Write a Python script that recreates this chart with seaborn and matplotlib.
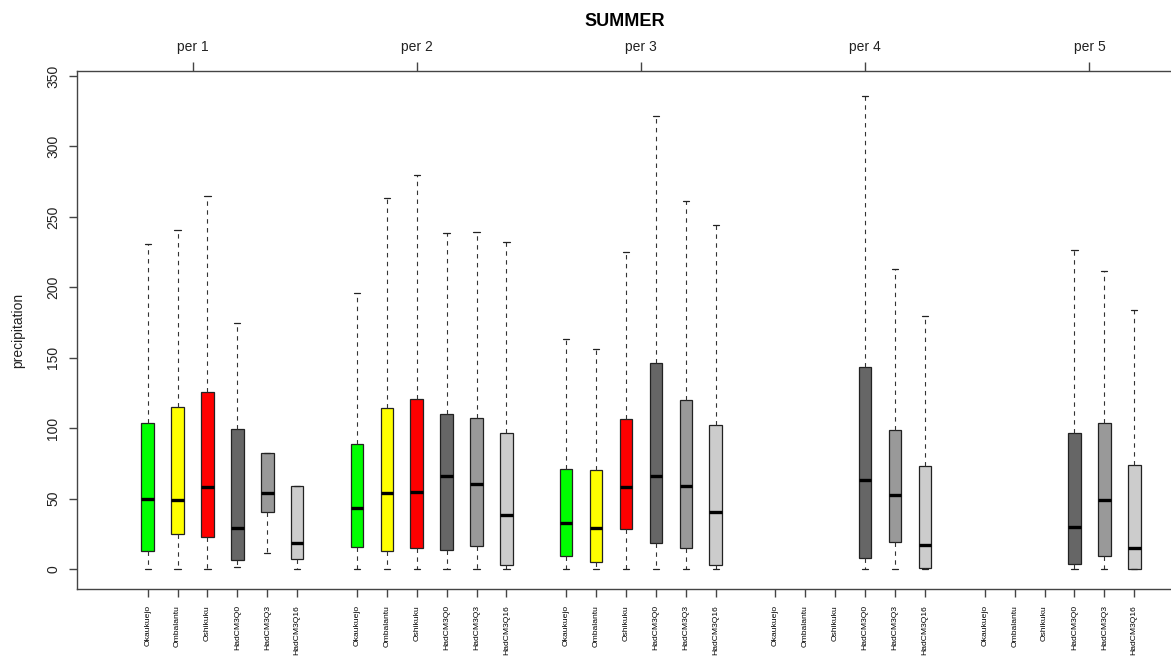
import numpy as np
import pandas as pd
import matplotlib
matplotlib.use("Agg")
import matplotlib.pyplot as plt
import seaborn as sns

periods = ["per 1", "per 2", "per 3", "per 4", "per 5"]
stations = ["Okaukuejo", "Ombalantu", "Oshikuku", "HadCM3Q0", "HadCM3Q3", "HadCM3Q16"]
colors = ["#00FF00", "#FFFF00", "#FF0000", "#666666", "#999999", "#CCCCCC"]

# Five-number summaries of summer precipitation, one row per period,
# one column per station / model run (None = no observations in that period)
whisker_low = [
    [0.0, 0.0, 0.0, 1.7, 11.1, 0.0],
    [0.0, 0.0, 0.0, 0.0, 0.0, 0.0],
    [0.0, 0.0, 0.0, 0.0, 0.0, 0.0],
    [None, None, None, 0.0, 0.0, 0.0],
    [None, None, None, 0.0, 0.0, 0.0],
]
quart_low = [
    [13.0, 25.1, 22.9, 6.4, 40.2, 7.1],
    [15.4, 13.0, 14.9, 13.5, 16.1, 2.8],
    [9.5, 4.7, 28.2, 18.2, 14.9, 2.8],
    [None, None, None, 7.6, 19.0, 0.7],
    [None, None, None, 3.5, 9.0, 0.0],
]
median = [
    [49.7, 49.0, 58.0, 28.9, 53.7, 18.2],
    [43.1, 53.7, 54.4, 66.0, 60.1, 38.3],
    [32.9, 28.9, 58.0, 66.3, 59.2, 40.2],
    [None, None, None, 63.2, 52.5, 17.0],
    [None, None, None, 29.6, 49.2, 14.9],
]
quart_high = [
    [103.4, 114.8, 125.7, 99.4, 82.6, 58.7],
    [88.5, 114.1, 120.7, 110.0, 107.4, 96.6],
    [71.2, 70.5, 106.7, 146.2, 120.0, 102.0],
    [None, None, None, 143.2, 98.7, 73.3],
    [None, None, None, 96.8, 103.4, 73.8],
]
whisker_high = [
    [230.5, 240.9, 264.6, 174.4, 82.6, 58.7],
    [195.9, 263.6, 279.7, 238.3, 239.5, 232.4],
    [163.5, 156.4, 225.3, 321.6, 261.0, 244.2],
    [None, None, None, 336.0, 212.8, 179.8],
    [None, None, None, 226.7, 211.8, 183.9],
]
period_ticks = [2.5, 10.0, 17.5, 25.0, 32.5]
y_ticks = [0, 50, 100, 150, 200, 250, 300, 350]

# Long-form table: each box is given by its five summary values, so the
# quartiles computed by seaborn reproduce the summaries exactly.
slots_per_period = len(stations) + 1
rows = []
tick_pos, tick_lab = [], []
for g, per in enumerate(periods):
    for s, st in enumerate(stations):
        pos = g * slots_per_period + s + 1
        tick_pos.append(pos)
        tick_lab.append(st)
        if median[g][s] is None:
            continue
        for v in (whisker_low[g][s], quart_low[g][s], median[g][s],
                  quart_high[g][s], whisker_high[g][s]):
            rows.append({"pos": pos, "station": st, "period": per, "precipitation": v})
df = pd.DataFrame(rows)

sns.set_theme(style="white")
plt.rcParams["font.family"] = ["Liberation Sans", "DejaVu Sans"]

W, H = 1171, 657
fig = plt.figure(figsize=(W / 100, H / 100), dpi=100)
ax = fig.add_axes([77 / W, 68 / H, 1 - 77 / W, (589 - 71) / H])

line_col = "#222222"
sns.boxplot(
    data=df, x="pos", y="precipitation", hue="station",
    hue_order=stations, palette=dict(zip(stations, colors)),
    native_scale=True, dodge=False, width=0.42, whis=np.inf,
    saturation=1, linecolor=line_col, linewidth=0.9, legend=False,
    whiskerprops=dict(linestyle=(0, (4, 4)), linewidth=0.8, color="#333333"),
    capprops=dict(linewidth=0.9, color=line_col),
    medianprops=dict(linewidth=2.4, color="black", solid_capstyle="butt"),
    ax=ax,
)

ax.set_xlim(-1.364, 35.23)
ax.set_ylim(-14.2, 353.55)

spine_col = "#444444"
for side in ("left", "top", "bottom"):
    ax.spines[side].set_visible(True)
    ax.spines[side].set_color(spine_col)
    ax.spines[side].set_linewidth(1.0)
ax.spines["right"].set_visible(False)

ax.set_xticks(tick_pos)
ax.set_xticklabels(tick_lab, rotation=90, fontsize=6.1, va="top")
ax.set_yticks(y_ticks)
ax.set_yticklabels([str(v) for v in y_ticks], rotation=90, va="center", fontsize=10)
ax.tick_params(axis="x", which="major", bottom=True, length=5.5, width=1.0,
               color=spine_col, pad=6, labelcolor="black")
ax.tick_params(axis="y", which="major", left=True, length=6, width=1.0,
               color=spine_col, pad=6, labelcolor="#222222")
ax.set_xlabel("")
ax.set_ylabel("")

top = ax.secondary_xaxis("top")
top.set_xticks(period_ticks)
top.set_xticklabels(periods, fontsize=10, color="#222222")
top.tick_params(axis="x", length=6.5, width=1.0, color=spine_col, pad=6)
top.spines["top"].set_visible(False)

fig.text(18 / W, 1 - 330 / H, "precipitation", rotation=90, ha="center",
         va="center", fontsize=10, color="#222222")
fig.text(625 / W, 1 - 21 / H, "SUMMER", ha="center", va="center",
         fontsize=13, fontweight="bold", color="black")

fig.savefig("out.png", dpi=100)
